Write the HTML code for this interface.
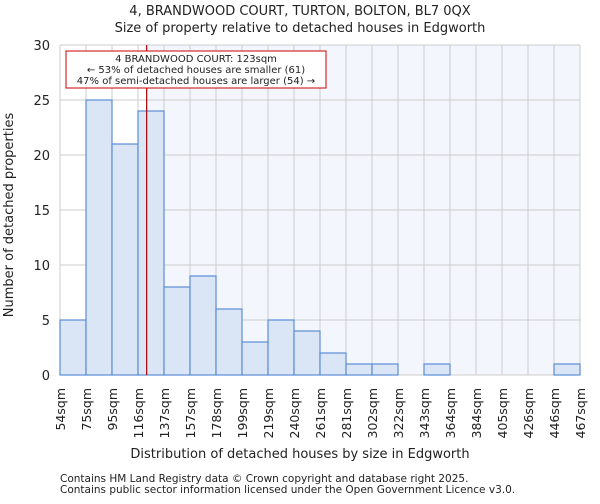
<!DOCTYPE html>
<html><head><meta charset="utf-8"><style>
body{margin:0;background:#fff;font-family:"DejaVu Sans","Liberation Sans",sans-serif}
svg text{font-family:"DejaVu Sans","Liberation Sans",sans-serif;fill:#222}
</style></head><body>
<svg id="c" width="600" height="500"></svg>
<script>
const edges=["54sqm","75sqm","95sqm","116sqm","137sqm","157sqm","178sqm","199sqm","219sqm","240sqm","261sqm","281sqm","302sqm","322sqm","343sqm","364sqm","384sqm","405sqm","426sqm","446sqm","467sqm"];
const counts=[5,25,21,24,8,9,6,3,5,4,2,1,1,0,1,0,0,0,0,1];
const yTicks=[0,5,10,15,20,25,30];
const propertyBinPos=3+(123-116)/21;
const L=60,R=580,T=45,B=375,ymax=30;
const NS="http://www.w3.org/2000/svg",svg=document.getElementById('c');
const xs=i=>L+(R-L)*i/counts.length;
const ys=v=>B-(B-T)*v/ymax;
function el(t,a,p){const e=document.createElementNS(NS,t);for(const k in a)e.setAttribute(k,a[k]);(p||svg).appendChild(e);return e;}
const lx=xs(propertyBinPos);
let r=el('rect',{x:lx,y:T,width:R-lx,height:B-T,fill:'#f3f6fd'});


for(let i=0;i<=counts.length;i++){let g=el('line',{x1:xs(i),x2:xs(i),y1:T,y2:B,stroke:'#ccc','stroke-width':1});}
yTicks.forEach(v=>{let g=el('line',{x1:L,x2:R,y1:ys(v),y2:ys(v),stroke:'#ccc','stroke-width':1});
let t=el('text',{x:L-10,y:ys(v)+5,'text-anchor':'end','font-size':13});t.textContent=v;});
counts.forEach((c,i)=>{if(c<=0)return;let b=el('rect',{x:xs(i),y:ys(c),width:xs(i+1)-xs(i),height:B-ys(c),fill:'#dae5f5',stroke:'#5b8dd6','stroke-width':1.2});});
edges.forEach((e,i)=>{let t=el('text',{x:0,y:0,'text-anchor':'end','font-size':12.5,transform:`translate(${xs(i)+5},388) rotate(-90)`});t.textContent=e;});
let ln=el('line',{x1:lx,x2:lx,y1:T,y2:B,stroke:'#a00','stroke-width':1.2});
let box=el('rect',{x:66,y:51,width:260,height:37,fill:'#fff',stroke:'#c00','stroke-width':1});
["4 BRANDWOOD COURT: 123sqm","← 53% of detached houses are smaller (61)","47% of semi-detached houses are larger (54) →"].forEach((s,i)=>{let t=el('text',{x:196,y:62+i*11,'text-anchor':'middle','font-size':10});t.textContent=s;});
function txt(s,a,n){let t=el('text',a);t.textContent=s;}
txt("4, BRANDWOOD COURT, TURTON, BOLTON, BL7 0QX",{x:300,y:15,'text-anchor':'middle','font-size':13},'chart-title');
txt("Size of property relative to detached houses in Edgworth",{x:300,y:32,'text-anchor':'middle','font-size':13},'chart-subtitle');
txt("Distribution of detached houses by size in Edgworth",{x:300,y:458,'text-anchor':'middle','font-size':13},'x-axis-title');
txt("Number of detached properties",{x:0,y:0,'text-anchor':'middle','font-size':13,transform:'translate(13,215) rotate(-90)'},'y-axis-title');
txt("Contains HM Land Registry data © Crown copyright and database right 2025.",{x:60,y:482,'font-size':10.5},'footer-line-1');
txt("Contains public sector information licensed under the Open Government Licence v3.0.",{x:60,y:493,'font-size':10.5},'footer-line-2');
</script>
</body></html>
